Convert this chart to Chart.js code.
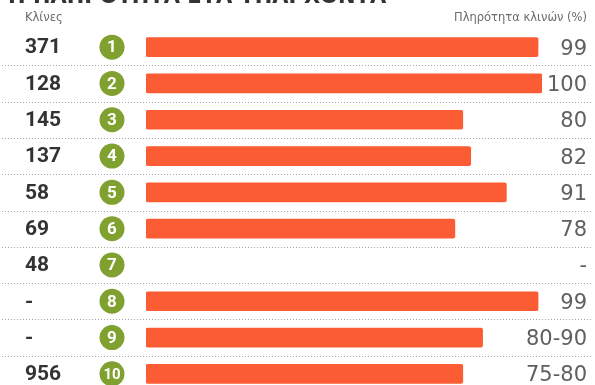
<!DOCTYPE html>
<html lang="el">
<head>
<meta charset="UTF-8">
<title>Πληρότητα κλινών</title>
<script src="https://cdn.jsdelivr.net/npm/chart.js"></script>
<style>
  html, body { margin: 0; padding: 0; background: #fff; overflow: hidden; }
  #wrap { position: absolute; left: 0; top: 0; width: 595px; height: 400px; }
</style>
</head>
<body>
<div id="wrap"><canvas id="occChart" width="595" height="400"></canvas></div>
<script>
// rows (1..10), beds, bar length (%), printed occupancy label
const ranks = ['1', '2', '3', '4', '5', '6', '7', '8', '9', '10'];
const beds = ['371', '128', '145', '137', '58', '69', '48', '-', '-', '956'];
const occupancy = [99, 100, 80, 82, 91, 78, null, 99, 85, 80];
const occupancyLabels = ['99', '100', '80', '82', '91', '78', '-', '99', '80-90', '75-80'];

const titleText = 'Η ΠΛΗΡΟΤΗΤΑ ΣΤΑ ΥΠΑΡΧΟΝΤΑ';
const leftHeader = 'Κλίνες';
const rightHeader = 'Πληρότητα κλινών (%)';

// draws the row separators, bed counts, green badges and right labels
const rowDecor = {
  id: 'rowDecor',
  beforeDatasetsDraw(chart) {
    const ctx = chart.ctx;
    const y = chart.scales.y;
    ctx.save();
    ctx.strokeStyle = '#a8a8a8';
    ctx.lineWidth = 1;
    ctx.setLineDash([1, 2]);
    for (let i = 0; i < ranks.length - 1; i++) {
      const yy = Math.round((y.getPixelForValue(i) + y.getPixelForValue(i + 1)) / 2) + 0.5;
      ctx.beginPath();
      ctx.moveTo(2, yy);
      ctx.lineTo(593, yy);
      ctx.stroke();
    }
    ctx.restore();
  },
  afterDatasetsDraw(chart) {
    const ctx = chart.ctx;
    const y = chart.scales.y;
    ctx.save();

    // cut-off title at the very top
    ctx.fillStyle = '#333';
    ctx.font = 'bold 21px "DejaVu Sans"';
    ctx.textAlign = 'left';
    ctx.textBaseline = 'alphabetic';
    ctx.fillText(titleText, 8, 3);

    ctx.fillStyle = '#6b6b6b';
    ctx.font = '11.5px "DejaVu Sans"';
    ctx.textBaseline = 'middle';
    ctx.fillText(leftHeader, 25, 18);
    ctx.textAlign = 'right';
    ctx.fillText(rightHeader, 587, 18);

    ranks.forEach((r, i) => {
      const cy = y.getPixelForValue(i);
      ctx.textAlign = 'left';
      ctx.fillStyle = '#333';
      ctx.font = 'bold 21px Roboto';
      ctx.fillText(beds[i], 25, cy + 1);

      ctx.beginPath();
      ctx.fillStyle = '#80a030';
      ctx.arc(112, cy, 12.5, 0, Math.PI * 2);
      ctx.fill();
      ctx.fillStyle = '#fff';
      ctx.textAlign = 'center';
      ctx.font = 'bold ' + (r.length > 1 ? 15 : 17) + 'px Roboto';
      ctx.fillText(r, 112, cy + 1);

      ctx.textAlign = 'right';
      ctx.fillStyle = '#606060';
      ctx.font = '21px "DejaVu Sans"';
      ctx.fillText(occupancyLabels[i], 587, cy + 2);
    });
    ctx.restore();
  }
};

new Chart(document.getElementById('occChart'), {
  type: 'bar',
  data: {
    labels: ranks,
    datasets: [{
      data: occupancy,
      backgroundColor: '#fc5c33',
      borderSkipped: false,
      borderRadius: 2,
      barThickness: 19
    }]
  },
  options: {
    indexAxis: 'y',
    responsive: false,
    animation: false,
    layout: { padding: { left: 146, right: 53, top: 29, bottom: 8 } },
    scales: {
      x: { display: false, min: 0, max: 100 },
      y: { display: false }
    },
    plugins: {
      legend: { display: false },
      tooltip: { enabled: false }
    }
  },
  plugins: [rowDecor]
});
</script>
</body>
</html>
